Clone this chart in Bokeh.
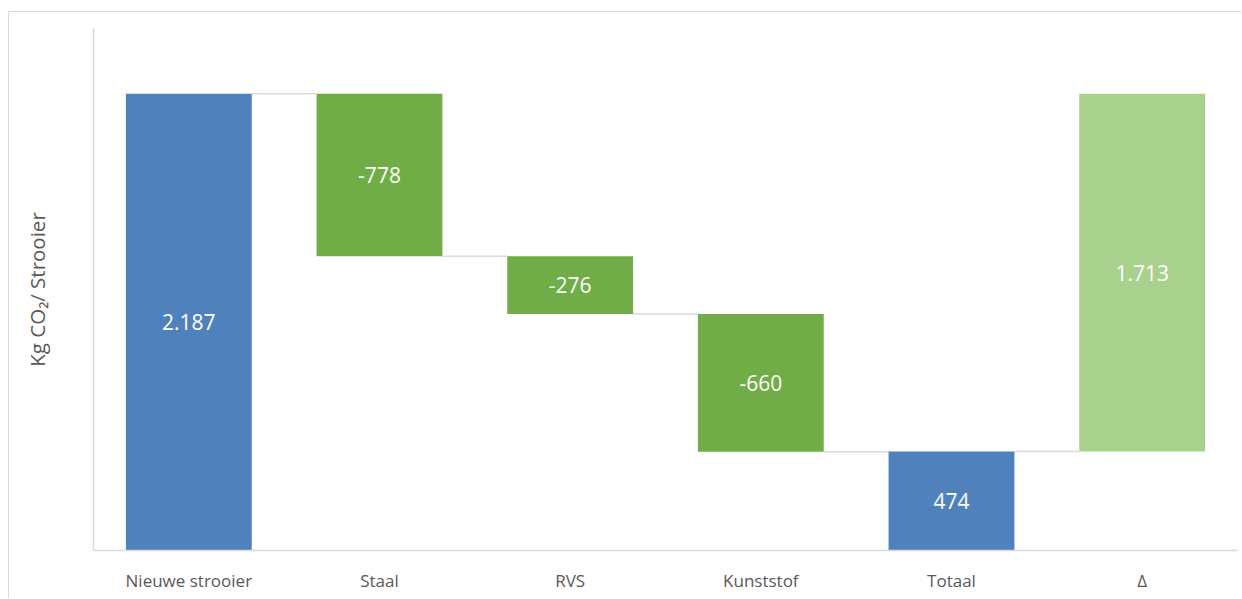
from bokeh.plotting import figure
from bokeh.layouts import column
from bokeh.models import ColumnDataSource, Range1d, FixedTicker
from bokeh.core.properties import value
from bokeh.embed import file_html
from bokeh.resources import INLINE

categories = ["Nieuwe strooier", "Staal", "RVS", "Kunststof", "Totaal", "Δ"]
values = [2187, -778, -276, -660, 474, 1713]
value_labels = ["2.187", "-778", "-276", "-660", "474", "1.713"]
kinds = ["total", "step", "step", "step", "total", "delta"]

colors = {"total": "#4F81BD", "step": "#70AD47", "delta": "#A9D18E"}

xs, bottoms, tops, fills = [], [], [], []
running = 0
for i, (v, k) in enumerate(zip(values, kinds)):
    if k == "total":
        b, t = 0, v
        running = v
    elif k == "step":
        b, t = running + v, running
        running = running + v
    else:
        b, t = running, running + v
        running = running + v
    xs.append(i)
    bottoms.append(b)
    tops.append(t)
    fills.append(colors[k])

mids = [(b + t) / 2 for b, t in zip(bottoms, tops)]
src = ColumnDataSource(dict(x=xs, bottom=bottoms, top=tops, color=fills,
                            mid=mids, label=value_labels))

bar_w = 0.66
levels = [bottoms[i] if kinds[i] == "step" else tops[i] for i in range(len(values))]
seg_x0 = [xs[i] + bar_w / 2 for i in range(len(values) - 1)]
seg_x1 = [xs[i + 1] - bar_w / 2 for i in range(len(values) - 1)]
seg_y = [levels[i] for i in range(len(values) - 1)]

p = figure(width=1232, height=586, output_backend="svg", toolbar_location=None,
           x_range=Range1d(-0.5, 5.5), y_range=Range1d(0, 2500),
           min_border_left=84, min_border_right=4, min_border_top=16,
           min_border_bottom=48)
p.outline_line_color = None
p.grid.visible = False
p.background_fill_color = "white"
p.border_fill_color = "white"

p.segment(x0=seg_x0, x1=seg_x1, y0=seg_y, y1=seg_y, line_color="#d9d9d9", line_width=1.5)
p.vbar(x="x", bottom="bottom", top="top", width=bar_w, fill_color="color",
       line_color=None, source=src)
p.text(x="x", y="mid", text="label", source=src, text_color="white",
       text_align="center", text_baseline="middle", text_font=value("Open Sans"),
       text_font_size="21px")

p.xaxis.ticker = FixedTicker(ticks=xs)
p.xaxis.major_label_overrides = {i: c for i, c in enumerate(categories)}
p.xaxis.major_tick_line_color = None
p.xaxis.minor_tick_line_color = None
p.xaxis.axis_line_color = "#d9d9d9"
p.xaxis.axis_line_width = 1.5
p.xaxis.major_label_text_color = "#595959"
p.xaxis.major_label_text_font = "Open Sans"
p.xaxis.major_label_text_font_size = "17px"
p.xaxis.major_label_standoff = 12

p.yaxis.ticker = FixedTicker(ticks=[])
p.yaxis.major_tick_line_color = None
p.yaxis.minor_tick_line_color = None
p.yaxis.major_label_text_font_size = "0px"
p.yaxis.axis_line_color = "#d9d9d9"
p.yaxis.axis_line_width = 1.5
p.yaxis.axis_label = "Kg CO₂/ Strooier"
p.yaxis.axis_label_text_color = "#595959"
p.yaxis.axis_label_text_font = "Open Sans"
p.yaxis.axis_label_text_font_style = "normal"
p.yaxis.axis_label_text_font_size = "20.5px"
p.yaxis.axis_label_standoff = 43

layout = column(p, margin=(11, 0, 0, 8),
                styles={"border-top": "1px solid #d9d9d9", "border-left": "1px solid #d9d9d9"})

open("out.html", "w").write(file_html(layout, INLINE))
